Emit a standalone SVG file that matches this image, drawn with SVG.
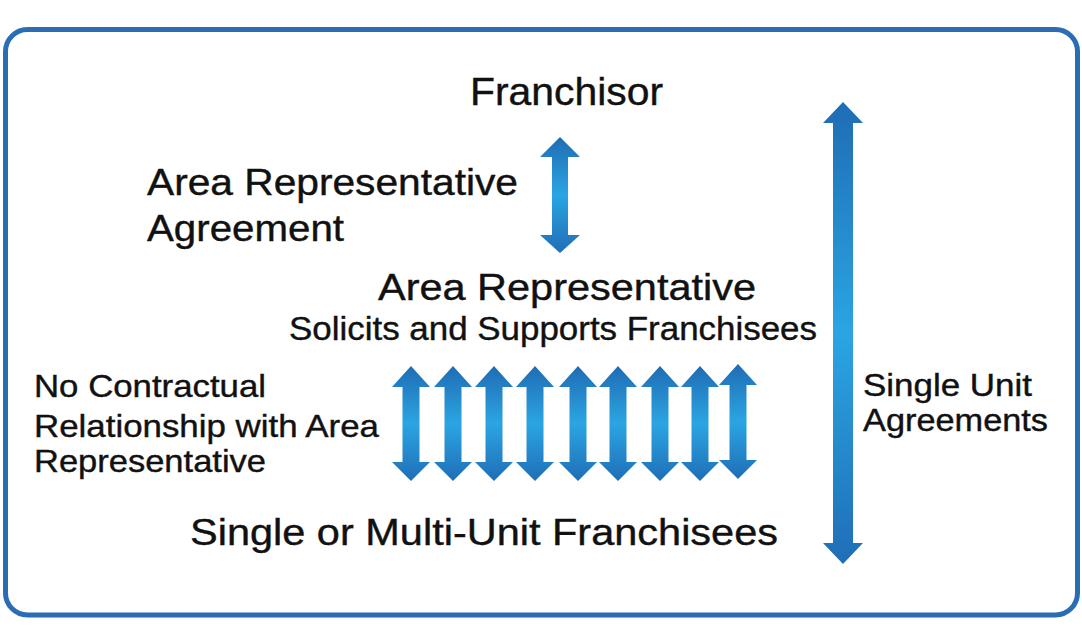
<svg xmlns="http://www.w3.org/2000/svg" xmlns:xlink="http://www.w3.org/1999/xlink" width="1082" height="640" viewBox="0 0 1082 640">
  <defs>
    <linearGradient id="g" x1="0" y1="0" x2="0" y2="1">
      <stop offset="0" stop-color="#1f6cb4"/>
      <stop offset="0.5" stop-color="#2ba5e2"/>
      <stop offset="1" stop-color="#1f6eb6"/>
    </linearGradient>
    <path id="ra" d="M0,366 L19,387 L8.5,387 L8.5,462 L19,462 L0,481 L-19,462 L-8.5,462 L-8.5,387 L-19,387 Z"/>
  </defs>
  <style>
    .t { font-family: "Liberation Sans", Arial, sans-serif; fill: #111; stroke: #111; stroke-width: 0.4; }
    .arr { fill: url(#g); }
  </style>
  <rect width="1082" height="640" fill="#ffffff"/>
  <rect x="5.5" y="29.5" width="1072" height="585.5" rx="22" ry="22" fill="#ffffff" stroke="#2a6db5" stroke-width="5"/>

  <g id="franchisor">
    <text class="t" x="470" y="105" font-size="38" textLength="193" lengthAdjust="spacingAndGlyphs">Franchisor</text>
  </g>
  <g id="area-rep-agreement">
    <text class="t" x="147" y="195" font-size="36" textLength="371" lengthAdjust="spacingAndGlyphs">Area Representative</text>
    <text class="t" x="147" y="241" font-size="36" textLength="197" lengthAdjust="spacingAndGlyphs">Agreement</text>
  </g>
  <g id="area-representative">
    <text class="t" x="378" y="300" font-size="37" textLength="378" lengthAdjust="spacingAndGlyphs">Area Representative</text>
    <text class="t" x="289" y="340" font-size="33" textLength="528" lengthAdjust="spacingAndGlyphs">Solicits and Supports Franchisees</text>
  </g>
  <g id="no-contract">
    <text class="t" x="34" y="397" font-size="32" textLength="232" lengthAdjust="spacingAndGlyphs">No Contractual</text>
    <text class="t" x="34" y="437" font-size="32" textLength="345" lengthAdjust="spacingAndGlyphs">Relationship with Area</text>
    <text class="t" x="34" y="472" font-size="32" textLength="232" lengthAdjust="spacingAndGlyphs">Representative</text>
  </g>
  <g id="franchisees">
    <text class="t" x="190" y="545" font-size="37" textLength="588" lengthAdjust="spacingAndGlyphs">Single or Multi-Unit Franchisees</text>
  </g>
  <g id="single-unit">
    <text class="t" x="863" y="396" font-size="31" textLength="169" lengthAdjust="spacingAndGlyphs">Single Unit</text>
    <text class="t" x="863" y="431" font-size="31" textLength="185" lengthAdjust="spacingAndGlyphs">Agreements</text>
  </g>

  <g id="connectors">
    <path class="arr" d="M560,137 L580,157 L568,157 L568,235 L580,235 L560,253 L540,235 L552,235 L552,157 L540,157 Z"/>
    <path class="arr" d="M843,102 L863,123 L853,123 L853,543 L863,543 L843,564 L823,543 L833,543 L833,123 L823,123 Z"/>
    <use class="arr" xlink:href="#ra" x="411" y="0"/>
    <use class="arr" xlink:href="#ra" x="453" y="0"/>
    <use class="arr" xlink:href="#ra" x="494" y="0"/>
    <use class="arr" xlink:href="#ra" x="535" y="0"/>
    <use class="arr" xlink:href="#ra" x="578" y="0"/>
    <use class="arr" xlink:href="#ra" x="618" y="0"/>
    <use class="arr" xlink:href="#ra" x="660" y="0"/>
    <use class="arr" xlink:href="#ra" x="700" y="0"/>
    <use class="arr" xlink:href="#ra" x="738" y="-2"/>
  </g>
</svg>
